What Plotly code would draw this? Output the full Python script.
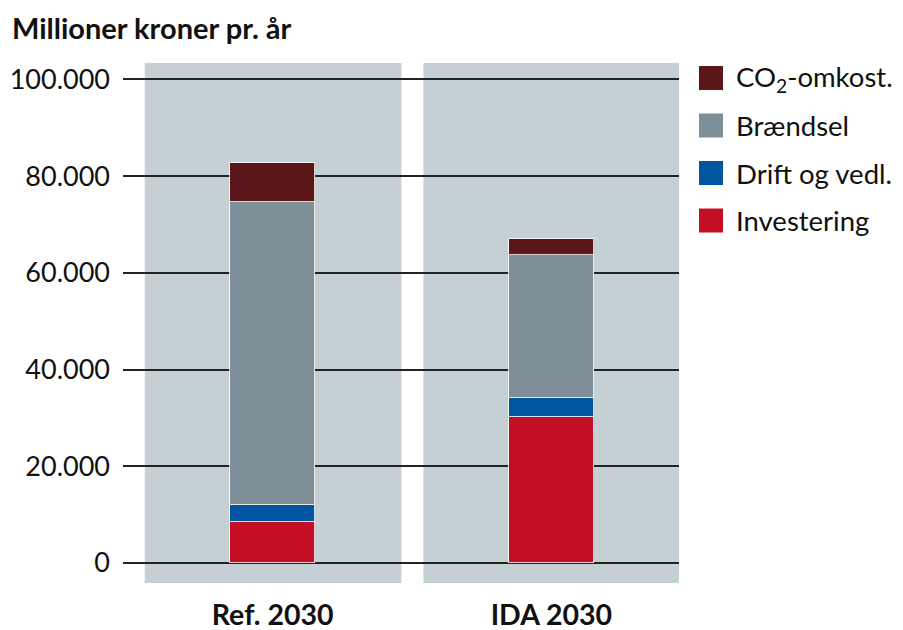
import plotly.graph_objects as go

categories = ["Ref. 2030", "IDA 2030"]
series_names = ["Investering", "Drift og vedl.", "Brændsel", "CO<sub>2</sub>-omkost."]
investering = [8500, 30100]
drift = [3550, 4000]
braendsel = [62550, 29650]
co2 = [8150, 3250]
series_values = [investering, drift, braendsel, co2]
colors = ["#c40e24", "#0055a0", "#7e8f98", "#5a1619"]
y_tickvals = [0, 20000, 40000, 60000, 80000, 100000]
y_ticktext = ["0", "20.000", "40.000", "60.000", "80.000", "100.000"]
y_title = "Millioner kroner pr. år"

FONT = "Lato"
W, H = 903, 630
L, R, T, B = 123, 224, 63, 47
plot_w = W - L - R
plot_h = H - T - B

xs = list(range(len(categories)))
fig = go.Figure()
for name, vals, col in zip(series_names, series_values, colors):
    fig.add_trace(go.Bar(
        x=xs, y=vals, name=name, width=0.307,
        marker=dict(color=col, line=dict(color="white", width=0.8)),
        showlegend=False,
    ))

shapes = []
for i in xs:
    shapes.append(dict(type="rect", xref="x", yref="y domain", x0=i - 0.459, x1=i + 0.462,
                       y0=0, y1=1, fillcolor="#c5d0d5", line=dict(width=0), layer="below"))

annotations = [dict(text="<b>" + y_title + "</b>", xref="paper", yref="paper",
                    x=(10 - L) / plot_w, y=(H - B - 8) / plot_h, xanchor="left", yanchor="top",
                    showarrow=False, font=dict(family=FONT, size=29, color="#111"))]

# manual legend (top to bottom: reverse stacking order)
row_centers = [78, 125.5, 173, 220.5]
for k, (name, col) in enumerate(zip(series_names[::-1], colors[::-1])):
    yc = row_centers[k]
    shapes.append(dict(type="rect", xref="paper", yref="paper",
                       x0=(699 - L) / plot_w, x1=(723 - L) / plot_w,
                       y0=(H - B - (yc + 12)) / plot_h, y1=(H - B - (yc - 12)) / plot_h,
                       fillcolor=col, line=dict(width=0)))
    annotations.append(dict(text=name, xref="paper", yref="paper",
                            x=(734 - L) / plot_w, y=(H - B - yc) / plot_h,
                            xanchor="left", yanchor="middle", showarrow=False,
                            font=dict(family=FONT, size=27.5, color="#111")))

fig.update_layout(
    width=W, height=H,
    margin=dict(l=L, r=R, t=T, b=B, autoexpand=False),
    paper_bgcolor="white", plot_bgcolor="white",
    barmode="stack", bargap=0,
    shapes=shapes, annotations=annotations,
    font=dict(family=FONT, size=27, color="#111"),
    xaxis=dict(range=[-0.537, 1.458], tickvals=xs,
               ticktext=["<b>" + c + "</b>" for c in categories],
               showgrid=False, zeroline=False, showline=False, ticks="", automargin=False,
               ticklabelstandoff=12, tickfont=dict(family=FONT, size=28.5, color="#111")),
    yaxis=dict(range=[-4140, 103410], tickvals=y_tickvals, ticktext=y_ticktext,
               showgrid=True, gridcolor="#222", gridwidth=1.5, zeroline=False, automargin=False,
               showline=False, ticks="", ticklabelstandoff=12,
               tickfont=dict(family=FONT, size=27, color="#111")),
)

fig.write_html("out.html", config={"displayModeBar": False},
               post_script="document.body.style.margin='0px';")
